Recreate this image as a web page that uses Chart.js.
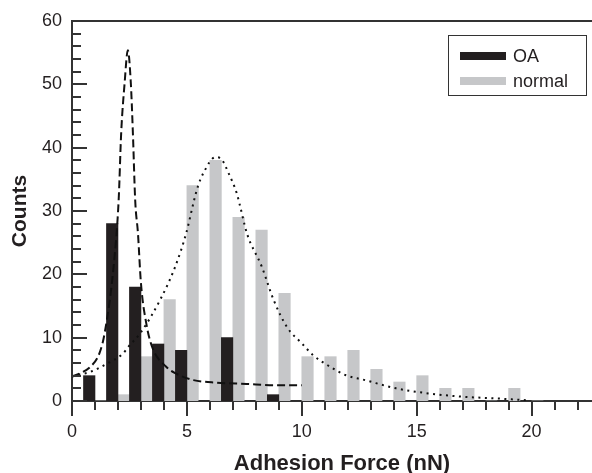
<!DOCTYPE html>
<html>
<head>
<meta charset="utf-8">
<script src="https://cdn.jsdelivr.net/npm/chart.js@4/dist/chart.umd.min.js"></script>
<style>
  html, body { margin: 0; padding: 0; overflow: hidden; background: #fff; width: 592px; height: 473px; }
  #wrap { position: relative; width: 612px; height: 473px; }
  #legend { position: absolute; left: 448px; top: 35px; width: 139px; height: 61px; box-sizing: border-box;
            border: 1px solid #333; font: 18px "Liberation Sans", Arial, sans-serif; color: #231f20; }
  .row { position: absolute; left: 0; height: 24px; line-height: 24px; white-space: nowrap; }
  .sw { position: absolute; left: 11px; top: 8px; width: 46px; height: 8px; }
  .lb { position: absolute; left: 64px; top: 0; }
</style>
</head>
<body>
<div id="wrap">
  <canvas id="c" width="612" height="473"></canvas>
  <div id="legend"></div>
</div>
<script>
// ---- data ----
const binCenters   = [1, 2, 3, 4, 5, 6, 7, 8, 9, 10, 11, 12, 13, 14, 15, 16, 17, 18, 19, 20];
const oaCounts     = [4, 28, 18, 9, 8, 0, 10, 0, 1, 0, 0, 0, 0, 0, 0, 0, 0, 0, 0, 0];
const normalCounts = [0, 1, 7, 16, 34, 38, 29, 27, 17, 7, 7, 8, 5, 3, 4, 2, 2, 0, 2, 0];

const oaFitX = [0, 0.36, 0.8, 1.2, 1.42, 1.81, 2.03, 2.14, 2.29, 2.43, 2.56, 2.65, 2.75, 2.87, 3.0, 3.23, 3.48, 4.1, 4.49, 5.29, 6.3, 7.6, 8.77, 10.0];
const oaFitY = [3.85, 4.4, 5.4, 7.6, 10.7, 21.2, 31.7, 42.3, 50.2, 55.4, 50.2, 42.3, 31.7, 26.5, 18.6, 12.3, 8.6, 5.4, 4.4, 3.3, 2.9, 2.7, 2.5, 2.5];

const normalFitX = [0, 0.22, 0.8, 1.42, 2.22, 2.46, 2.97, 3.84, 4.49, 4.97, 5.32, 5.48, 5.72, 6.24, 6.52, 6.81, 7.17, 7.32, 7.61, 8.26, 8.77, 9.35, 10.0, 10.5, 11.1, 11.9, 12.75, 14.1, 15.5, 16.9, 18.5, 19.9];
const normalFitY = [3.9, 4.1, 4.6, 5.7, 7.5, 8.6, 10.7, 16.0, 21.2, 26.5, 31.8, 33.9, 36.0, 38.5, 38.1, 36.0, 32.8, 30.7, 26.5, 21.2, 16.0, 11.7, 9.1, 7.2, 5.7, 4.1, 3.3, 2.0, 1.2, 0.7, 0.4, 0.1];

const seriesNames = ['OA', 'normal'];
const xTitle = 'Adhesion Force (nN)';
const yTitle = 'Counts';
const xMin = 0, xMax = 23.5, xMajor = 5, xMinor = 1;
const yMin = 0, yMax = 60, yMajor = 10, yMinor = 2;

// ---- styling ----
const FONT = "'Liberation Sans', Arial, Helvetica, sans-serif";
const darkColor = '#231f20';
const greyColor = '#c6c7c9';
const axisColor = '#333333';

const pts = (xs, ys) => xs.map((x, i) => ({ x, y: ys[i] }));

const axisTicksPlugin = {
  id: 'axisTicks',
  afterDraw(chart) {
    const { ctx, chartArea: a, scales: { x, y } } = chart;
    ctx.save();
    ctx.strokeStyle = axisColor;
    ctx.lineWidth = 2;
    ctx.beginPath();
    ctx.moveTo(a.left, a.top);
    ctx.lineTo(a.right, a.top);
    for (let v = yMin; v <= yMax + 1e-9; v += yMinor) {
      const py = Math.round(y.getPixelForValue(v));
      const len = (Math.abs(v % yMajor) < 1e-9) ? 15 : 9;
      ctx.moveTo(a.left, py);
      ctx.lineTo(a.left + len, py);
    }
    for (let v = xMin; v <= xMax + 1e-9; v += xMinor) {
      const px = Math.round(x.getPixelForValue(v));
      const len = (Math.abs(v % xMajor) < 1e-9) ? 15 : 9;
      ctx.moveTo(px, a.bottom);
      ctx.lineTo(px, a.bottom + len);
    }
    ctx.stroke();
    ctx.restore();
  }
};

Chart.defaults.font.family = FONT;
Chart.defaults.color = darkColor;

const chart = new Chart(document.getElementById('c'), {
  type: 'bar',
  data: {
    datasets: [
      { type: 'line', label: 'OA fit', data: pts(oaFitX, oaFitY), borderColor: '#111', borderWidth: 2,
        borderDash: [8, 4], pointRadius: 0, cubicInterpolationMode: 'monotone', fill: false, order: 0 },
      { type: 'line', label: 'normal fit', data: pts(normalFitX, normalFitY), borderColor: '#111', borderWidth: 2,
        borderDash: [2, 4.5], pointRadius: 0, cubicInterpolationMode: 'monotone', fill: false, order: 0 },
      { type: 'bar', label: seriesNames[0], data: pts(binCenters, oaCounts), backgroundColor: darkColor,
        borderWidth: 0, barPercentage: 1, categoryPercentage: 1, order: 1 },
      { type: 'bar', label: seriesNames[1], data: pts(binCenters, normalCounts), backgroundColor: greyColor,
        borderWidth: 0, barPercentage: 1, categoryPercentage: 1, order: 1 }
    ]
  },
  options: {
    responsive: false,
    animation: false,
    layout: { padding: { top: 21, left: 0, right: 0, bottom: 0 } },
    plugins: { legend: { display: false }, tooltip: { enabled: false } },
    scales: {
      x: {
        type: 'linear', min: xMin, max: xMax, offset: false,
        grid: { display: false, drawTicks: false, offset: false },
        border: { display: true, color: axisColor, width: 2 },
        ticks: { stepSize: xMajor, includeBounds: false, padding: 20, maxRotation: 0,
                 font: { size: 18 }, color: darkColor },
        title: { display: true, text: xTitle, color: darkColor,
                 font: { size: 22, weight: 'bold' }, padding: { top: 0, bottom: -4 } },
        afterFit(scale) { scale.height = 72; }
      },
      y: {
        type: 'linear', min: yMin, max: yMax,
        grid: { display: false, drawTicks: false },
        border: { display: true, color: axisColor, width: 2 },
        ticks: { stepSize: yMajor, padding: 10, font: { size: 18 }, color: darkColor },
        title: { display: true, text: yTitle, color: darkColor,
                 font: { size: 21, weight: 'bold' }, padding: { top: 8, bottom: 0 } },
        afterFit(scale) { scale.width = 72; }
      }
    }
  },
  plugins: [axisTicksPlugin]
});

const legendEl = document.getElementById('legend');
chart.data.datasets.filter(d => d.type === 'bar').forEach((d, i) => {
  const row = document.createElement('div');
  row.className = 'row';
  row.style.top = (8 + i * 24.5) + 'px';
  const sw = document.createElement('span');
  sw.className = 'sw';
  sw.style.background = d.backgroundColor;
  const lb = document.createElement('span');
  lb.className = 'lb';
  lb.textContent = d.label;
  row.appendChild(sw);
  row.appendChild(lb);
  legendEl.appendChild(row);
});
</script>
</body>
</html>
